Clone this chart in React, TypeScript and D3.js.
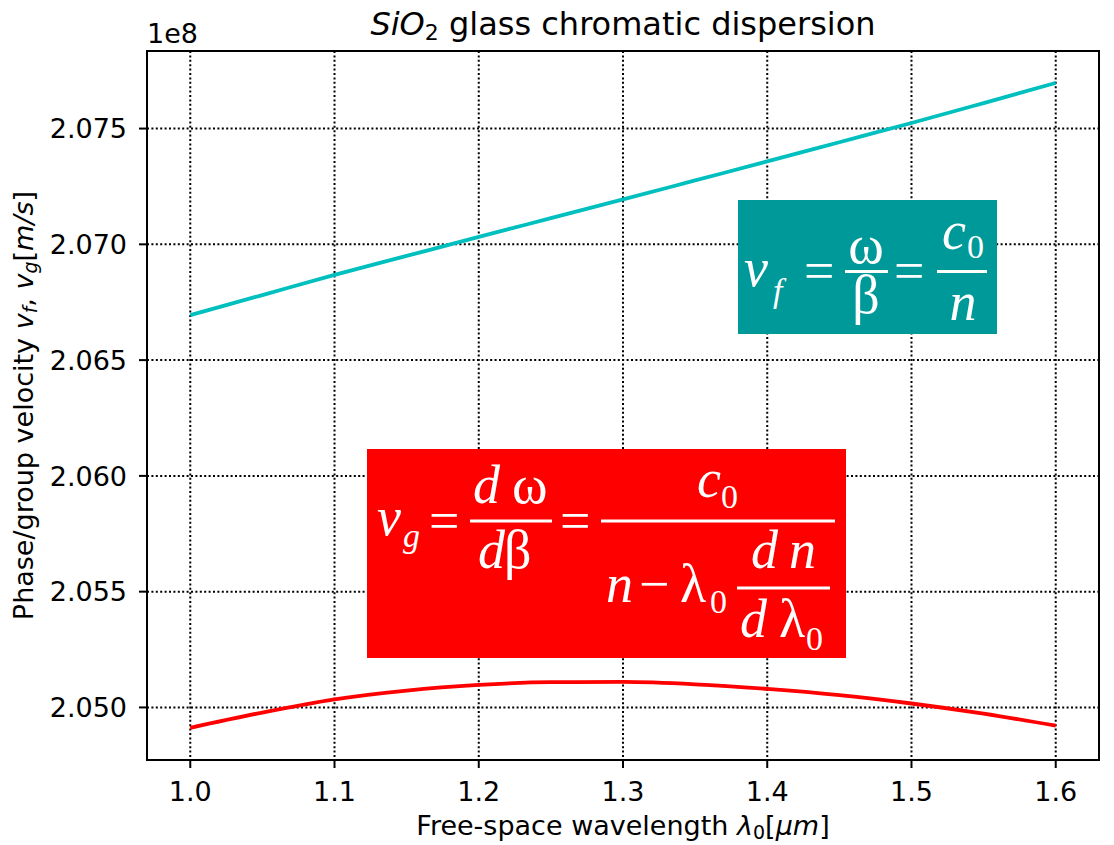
import React from "react";
import * as d3 from "d3";

// wavelength in micrometres
const wavelengths = [1.0, 1.05, 1.1, 1.15, 1.2, 1.25, 1.3, 1.35, 1.4, 1.45, 1.5, 1.55, 1.6];
// phase velocity (x 1e8 m/s)
const phaseVelocity = [2.06694, 2.06781, 2.06868, 2.0695, 2.07032, 2.07113, 2.07194, 2.07276, 2.07358, 2.07441, 2.07524, 2.0761, 2.07697];
// group velocity (x 1e8 m/s)
const groupVelocity = [2.04912, 2.04978, 2.05035, 2.05073, 2.05097, 2.05109, 2.0511, 2.051, 2.0508, 2.05053, 2.05017, 2.04973, 2.04921];

const xTicks = [1.0, 1.1, 1.2, 1.3, 1.4, 1.5, 1.6];
const yTicks = [2.05, 2.055, 2.06, 2.065, 2.07, 2.075];

const W = 1114;
const H = 845;
const L = 147, R = 1099, T = 51, B = 760;

const SANS = "'DejaVu Sans', sans-serif";
const SERIF = "'Liberation Serif', 'Times New Roman', Times, serif";

function T_({ x, y, s, it, size = 54, anchor = "start" }: any) {
  return (
    <text x={x} y={y} fontFamily={SERIF} fontSize={size} fontStyle={it ? "italic" : "normal"} fill="#fff" textAnchor={anchor}>
      {s}
    </text>
  );
}
function Bar({ x1, x2, y }: any) {
  return <line x1={x1} x2={x2} y1={y} y2={y} stroke="#fff" strokeWidth={3} />;
}

export default function App() {
  const x = d3.scaleLinear().domain([0.97, 1.63]).range([L, R]);
  const y = d3.scaleLinear().domain([2.04773, 2.07835]).range([B, T]);

  const line = d3
    .line<number>()
    .x((_, i) => x(wavelengths[i]))
    .y((d) => y(d))
    .curve(d3.curveMonotoneX);

  return (
    <div style={{ position: "absolute", left: 0, top: 0 }}>
      <svg width={W} height={H} style={{ display: "block", background: "#fff" }}>
        {/* grid */}
        {xTicks.map((t) => (
          <line key={"gx" + t} x1={x(t)} x2={x(t)} y1={T} y2={B} stroke="#000" strokeWidth={2} strokeDasharray="2,2.4" />
        ))}
        {yTicks.map((t) => (
          <line key={"gy" + t} x1={L} x2={R} y1={y(t)} y2={y(t)} stroke="#000" strokeWidth={2} strokeDasharray="2,2.4" />
        ))}

        {/* data lines */}
        <path d={line(phaseVelocity) || ""} fill="none" stroke="#00bfbf" strokeWidth={3.8} />
        <path d={line(groupVelocity) || ""} fill="none" stroke="#ff0000" strokeWidth={3.8} />

        {/* teal formula box */}
        <rect x={738} y={200} width={259} height={134} fill="#009999" />
        <T_ x={744} y={286} s="v" it />
        <T_ x={773} y={302} s="f" it size={34} />
        <T_ x={804} y={289} s="=" />
        <T_ x={866} y={263} s="ω" anchor="middle" />
        <Bar x1={845} x2={888} y={271.5} />
        <T_ x={866} y={313} s="β" anchor="middle" />
        <T_ x={894} y={289} s="=" />
        <Bar x1={937} x2={987} y={271.5} />
        <T_ x={942} y={249} s="c" it />
        <T_ x={967} y={258} s="0" size={34} />
        <T_ x={963} y={320} s="n" it anchor="middle" />

        {/* red formula box */}
        <rect x={367} y={449} width={479} height={209} fill="#ff0000" />
        <T_ x={377} y={535} s="v" it />
        <T_ x={403} y={547} s="g" it size={34} />
        <T_ x={429} y={539} s="=" />
        <Bar x1={470} x2={552} y={521} />
        <T_ x={473} y={503} s="d" it />
        <T_ x={512} y={503} s="ω" />
        <T_ x={478} y={568} s="d" it />
        <T_ x={504} y={568} s="β" />
        <T_ x={560} y={539} s="=" />
        <Bar x1={601} x2={835} y={521} />
        <T_ x={697} y={497} s="c" it />
        <T_ x={721} y={508} s="0" size={34} />
        <T_ x={606} y={602} s="n" it />
        <T_ x={639} y={602} s="−" />
        <T_ x={680} y={602} s="λ" />
        <T_ x={710} y={613} s="0" size={34} />
        <Bar x1={737} x2={830} y={588} />
        <T_ x={751} y={568} s="d" it />
        <T_ x={789} y={568} s="n" it />
        <T_ x={740} y={637} s="d" it />
        <T_ x={779} y={637} s="λ" />
        <T_ x={806} y={650} s="0" size={34} />

        {/* spines */}
        <rect x={L} y={T} width={R - L} height={B - T} fill="none" stroke="#000" strokeWidth={2} />

        {/* x ticks */}
        {xTicks.map((t) => (
          <g key={"xt" + t}>
            <line x1={x(t)} x2={x(t)} y1={B} y2={B + 8} stroke="#000" strokeWidth={2} />
            <text x={x(t)} y={801} textAnchor="middle" fontFamily={SANS} fontSize={27} fill="#000">
              {d3.format(".1f")(t)}
            </text>
          </g>
        ))}
        {/* y ticks */}
        {yTicks.map((t) => (
          <g key={"yt" + t}>
            <line x1={L - 8} x2={L} y1={y(t)} y2={y(t)} stroke="#000" strokeWidth={2} />
            <text x={127} y={y(t) + 9.8} textAnchor="end" fontFamily={SANS} fontSize={27} fill="#000">
              {d3.format(".3f")(t)}
            </text>
          </g>
        ))}

        {/* offset text */}
        <text x={L} y={43} fontFamily={SANS} fontSize={27} fill="#000">1e8</text>

        {/* title */}
        <text x={(L + R) / 2} y={35} textAnchor="middle" fontFamily={SANS} fontSize={32} fill="#000">
          <tspan fontStyle="italic">SiO</tspan>
          <tspan fontSize={22} dy={5}>2</tspan>
          <tspan dy={-5}> glass chromatic dispersion</tspan>
        </text>

        {/* x label */}
        <text x={(L + R) / 2} y={835} textAnchor="middle" fontFamily={SANS} fontSize={27} fill="#000">
          <tspan>Free-space wavelength </tspan>
          <tspan fontStyle="italic">λ</tspan>
          <tspan fontSize={19} dy={4}>0</tspan>
          <tspan dy={-4}>[</tspan>
          <tspan fontStyle="italic">μm</tspan>
          <tspan>]</tspan>
        </text>

        {/* y label */}
        <text
          transform={`translate(33,${(T + B) / 2}) rotate(-90)`}
          textAnchor="middle"
          fontFamily={SANS}
          fontSize={27}
          fill="#000"
        >
          <tspan>Phase/group velocity </tspan>
          <tspan fontStyle="italic">v</tspan>
          <tspan fontStyle="italic" fontSize={19} dy={4}>f</tspan>
          <tspan dy={-4}>, </tspan>
          <tspan fontStyle="italic">v</tspan>
          <tspan fontStyle="italic" fontSize={19} dy={4}>g</tspan>
          <tspan dy={-4}>[</tspan>
          <tspan fontStyle="italic">m</tspan>
          <tspan fontStyle="italic">/</tspan>
          <tspan fontStyle="italic">s</tspan>
          <tspan>]</tspan>
        </text>
      </svg>
    </div>
  );
}
